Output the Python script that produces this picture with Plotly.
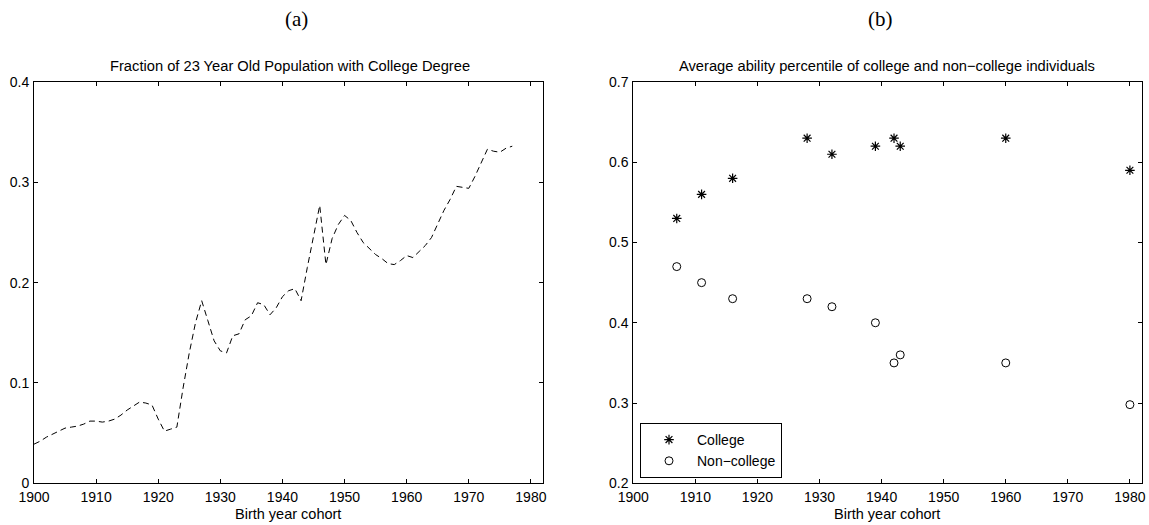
import plotly.graph_objects as go

# ---- Data: panel (a) ----
years_a = list(range(1900, 1978))
frac_college = [
    0.039, 0.042, 0.046, 0.049, 0.052, 0.055, 0.056, 0.057, 0.059, 0.062,
    0.062, 0.061, 0.062, 0.064, 0.068, 0.073, 0.077, 0.081, 0.080, 0.078,
    0.064, 0.052, 0.054, 0.056, 0.095, 0.130, 0.160, 0.182, 0.162, 0.142,
    0.132, 0.130, 0.147, 0.149, 0.163, 0.167, 0.180, 0.178, 0.168, 0.175,
    0.186, 0.192, 0.194, 0.182, 0.215, 0.245, 0.277, 0.218, 0.244, 0.258,
    0.267, 0.262, 0.250, 0.240, 0.234, 0.228, 0.224, 0.219, 0.218, 0.222,
    0.227, 0.225, 0.231, 0.237, 0.245, 0.258, 0.272, 0.283, 0.296, 0.295,
    0.294, 0.306, 0.320, 0.333, 0.331, 0.330, 0.334, 0.336,
]

# ---- Data: panel (b) ----
years_b = [1907, 1911, 1916, 1928, 1932, 1939, 1942, 1943, 1960, 1980]
college = [0.53, 0.56, 0.58, 0.63, 0.61, 0.62, 0.63, 0.62, 0.63, 0.59]
non_college = [0.47, 0.45, 0.43, 0.43, 0.42, 0.40, 0.35, 0.36, 0.35, 0.298]

W, H = 1149, 525
FONT = "Liberation Sans, Arial, sans-serif"
SERIF = "Liberation Serif, Times New Roman, serif"

fig = go.Figure()
fig.add_trace(go.Scatter(x=years_a, y=frac_college, mode="lines",
                         line=dict(color="black", width=1, dash="6px,4px"),
                         showlegend=False, xaxis="x", yaxis="y"))
fig.add_trace(go.Scatter(x=years_b, y=college, mode="markers", name="College",
                         marker=dict(symbol="asterisk-open", size=8, color="black",
                                     line=dict(color="black", width=1.2)),
                         xaxis="x2", yaxis="y2"))
fig.add_trace(go.Scatter(x=years_b, y=non_college, mode="markers", name="Non\u2212college",
                         marker=dict(symbol="circle-open", size=8, color="black",
                                     line=dict(color="black", width=1)),
                         xaxis="x2", yaxis="y2"))

y_dom = [1 - 483.3 / H, 1 - 82 / H]
axis_common = dict(showline=True, linecolor="black", linewidth=1, mirror="ticks",
                   ticks="inside", ticklen=4, tickcolor="black", showgrid=False,
                   zeroline=False, automargin=False,
                   tickfont=dict(family=FONT, size=14, color="black"))

fig.update_layout(
    template="none",
    width=W, height=H,
    margin=dict(l=0, r=0, t=0, b=0, pad=0),
    paper_bgcolor="white", plot_bgcolor="white",
    xaxis=dict(domain=[34 / W, 542.7 / W], range=[1900, 1981.9], dtick=10,
               tick0=1900, anchor="y", ticklabelstandoff=1, **axis_common),
    yaxis=dict(domain=y_dom, range=[0, 0.4], dtick=0.1, anchor="x",
               ticklabelstandoff=1, **axis_common),
    xaxis2=dict(domain=[633.3 / W, 1141.7 / W], range=[1900, 1981.9], dtick=10,
                tick0=1900, anchor="y2", ticklabelstandoff=1, **axis_common),
    yaxis2=dict(domain=y_dom, range=[0.2, 0.7], dtick=0.1, anchor="x2",
                ticklabelstandoff=1, **axis_common),
    legend=dict(x=640 / W, y=1 - 478 / H, xanchor="left", yanchor="bottom",
                bordercolor="black", borderwidth=1, bgcolor="white",
                font=dict(family=FONT, size=14, color="black"),
                tracegroupgap=0, itemwidth=46),
    showlegend=True,
)

annotations = [
    dict(text="(a)", x=296 / W, y=1 - 19 / H, font=dict(family=SERIF, size=21)),
    dict(text="(b)", x=880 / W, y=1 - 19 / H, font=dict(family=SERIF, size=21)),
    dict(text="Fraction of 23 Year Old Population with College Degree", x=290 / W, y=1 - 66 / H,
         font=dict(family=FONT, size=14.7)),
    dict(text="Average ability percentile of college and non\u2212college individuals", x=887 / W, y=1 - 66 / H,
         font=dict(family=FONT, size=14.7)),
    dict(text="Birth year cohort", x=288 / W, y=1 - 514 / H, font=dict(family=FONT, size=14.5)),
    dict(text="Birth year cohort", x=887 / W, y=1 - 514 / H, font=dict(family=FONT, size=14.5)),
]
for a in annotations:
    a.update(xref="paper", yref="paper", showarrow=False, xanchor="center", yanchor="middle")
    a["font"]["color"] = "black"
fig.update_layout(annotations=annotations)

fig.write_html("out.html", config={"displayModeBar": False},
               post_script="document.body.style.margin='0px';document.body.style.overflow='hidden';")
